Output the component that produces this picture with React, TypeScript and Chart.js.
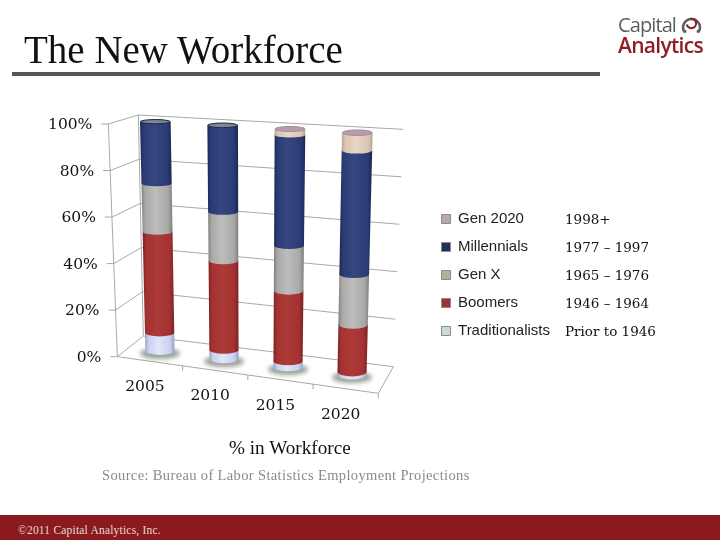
import React, { useEffect, useRef } from "react";
import { Chart, registerables } from "chart.js";

Chart.register(...registerables);

const years = ["2005", "2010", "2015", "2020"];
const traditionalists = [8, 4, 2.5, 1.3];
const boomers = [44, 38, 29.5, 19.5];
const genX = [21, 21, 19, 20.8];
const millennials = [27, 37, 46.5, 51];
const gen2020 = [0, 0, 2.5, 7.4];
const seriesNames = ["Traditionalists", "Boomers", "Gen X", "Millennials", "Gen 2020"];
const cohortRanges = ["1998+", "1977 – 1997", "1965 – 1976", "1946 – 1964", "Prior to 1946"];
const barColors = ["#c9d0f0", "#a33232", "#a9a9a7", "#2c3b74", "#dcc6b4"];
const edgeColors = ["#9aa0c0", "#7e2222", "#7f7f7d", "#1c2854", "#b8a292"];
const glowColors = ["#e2e6fa", "#ab3a38", "#bdbdbb", "#35477f", "#e8d6c6"];
const capColors = ["#d8dcf5", "#b04a48", "#c8c8c6", "#7d8a86", "#b79dab"];
const swatchFills = ["#cddbd6", "#9c3236", "#aeb39b", "#1f2f5e", "#b9a6b5"];

type P = [number, number];
const z = (x: number, y: number): P => [30 + x / 3, 100 + y / 3];
// frame of the perspective scene: [top-left, top-right, bottom-right, bottom-left]
const barPlane: P[] = [z(275, 59.5), z(1083, 103.5), z(1062, 837), z(294, 741)];
const backWall: P[] = [z(325, 45), z(1120, 88), z(1090, 800), z(340, 708)];
const sideWall: P[] = [z(235, 72), z(325, 45), z(340, 708), z(262, 770)];
const floorFrame: P[] = [z(340, 708), z(1090, 800), z(1045, 880), z(262, 770)];

const onQuad = (q: P[], u: number, t: number): P => {
  const tx = q[0][0] + (q[1][0] - q[0][0]) * u;
  const ty = q[0][1] + (q[1][1] - q[0][1]) * u;
  const bx = q[3][0] + (q[2][0] - q[3][0]) * u;
  const by = q[3][1] + (q[2][1] - q[3][1]) * u;
  return [tx + (bx - tx) * t, ty + (by - ty) * t];
};

const line = (ctx: CanvasRenderingContext2D, a: P, b: P) => {
  ctx.beginPath();
  ctx.moveTo(a[0], a[1]);
  ctx.lineTo(b[0], b[1]);
  ctx.stroke();
};

const scenePlugin = {
  id: "scene",
  beforeDatasetsDraw(chart: any) {
    const ctx: CanvasRenderingContext2D = chart.ctx;
    const { chartArea: ca, scales } = chart;
    const xs = scales.x;
    const ys = scales.y;
    const frac = (px: number, py: number): [number, number] => [
      (px - ca.left) / (ca.right - ca.left),
      (py - ca.top) / (ca.bottom - ca.top),
    ];
    ctx.save();

    // walls and floor
    ctx.strokeStyle = "#a8a8a8";
    ctx.lineWidth = 1;
    ys.ticks.forEach((tick: any) => {
      const t = frac(ca.left, ys.getPixelForValue(tick.value))[1];
      line(ctx, onQuad(sideWall, 0, t), onQuad(sideWall, 1, t));
      line(ctx, onQuad(backWall, 0, t), onQuad(backWall, 1, t));
      const front = onQuad(sideWall, 0, t);
      line(ctx, front, [front[0] - 7, front[1]]);
      ctx.fillStyle = "#111";
      ctx.font = '15.5px "DejaVu Serif"';
      ctx.textAlign = "right";
      ctx.textBaseline = "middle";
      ctx.fillText(tick.label, front[0] - 16, front[1] + 1);
    });
    line(ctx, onQuad(sideWall, 0, 0), onQuad(sideWall, 0, 1));
    line(ctx, onQuad(backWall, 0, 0), onQuad(backWall, 0, 1));
    line(ctx, onQuad(floorFrame, 0, 1), onQuad(floorFrame, 1, 1));
    line(ctx, onQuad(floorFrame, 1, 0), onQuad(floorFrame, 1, 1));

    years.forEach((_, i) => {
      const edge = frac(i < years.length - 1 ? (xs.getPixelForValue(i) + xs.getPixelForValue(i + 1)) / 2 : ca.right, ca.top)[0];
      const p = onQuad(floorFrame, edge, 1);
      line(ctx, p, [p[0], p[1] + 5]);
      const c = onQuad(floorFrame, frac(xs.getPixelForValue(i), ca.top)[0], 1);
      ctx.fillStyle = "#111";
      ctx.font = '15.5px "DejaVu Serif"';
      ctx.textAlign = "center";
      ctx.textBaseline = "middle";
      ctx.fillText(years[i], c[0] - 5, c[1] + 26);
    });

    const metas = chart.data.datasets.map((_: any, d: number) => chart.getDatasetMeta(d));
    const radius = (u: number, t: number) => 2 + 1.8 * t + 0.9 * u;

    // contact shadows
    metas[0].data.forEach((el: any) => {
      const [u, t] = frac(el.x, el.base);
      const c = onQuad(barPlane, u, t);
      ctx.save();
      ctx.filter = "blur(2px)";
      ctx.fillStyle = "rgba(72,84,68,0.55)";
      ctx.beginPath();
      ctx.ellipse(c[0], c[1] + 2.5, 20, 5.5, 0, 0, Math.PI * 2);
      ctx.fill();
      ctx.restore();
    });

    // cylinders, stacked from the floor upwards
    years.forEach((_, col) => {
      let topSeries = 0;
      metas.forEach((meta: any, d: number) => {
        const el = meta.data[col];
        const value = chart.data.datasets[d].data[col];
        if (!value) return;
        topSeries = d;
        const half = el.width / 2;
        const [uL, t1] = frac(el.x - half, el.y);
        const [uR, t0] = frac(el.x + half, el.base);
        const [uC] = frac(el.x, el.y);
        const lt = onQuad(barPlane, uL, t1);
        const rt = onQuad(barPlane, uR, t1);
        const lb = onQuad(barPlane, uL, t0);
        const rb = onQuad(barPlane, uR, t0);
        const g = ctx.createLinearGradient(Math.min(lt[0], lb[0]), 0, Math.max(rt[0], rb[0]), 0);
        g.addColorStop(0, edgeColors[d]);
        g.addColorStop(0.12, barColors[d]);
        g.addColorStop(0.45, glowColors[d]);
        g.addColorStop(0.85, barColors[d]);
        g.addColorStop(1, edgeColors[d]);
        ctx.fillStyle = g;
        ctx.beginPath();
        ctx.ellipse((lb[0] + rb[0]) / 2, (lb[1] + rb[1]) / 2, (rb[0] - lb[0]) / 2, radius(uC, t0), 0, Math.PI, 0, true);
        ctx.ellipse((lt[0] + rt[0]) / 2, (lt[1] + rt[1]) / 2, (rt[0] - lt[0]) / 2, radius(uC, t1), 0, 0, Math.PI, true);
        ctx.closePath();
        ctx.fill();
      });
      const el = metas[topSeries].data[col];
      const half = el.width / 2;
      const [uL, t1] = frac(el.x - half, el.y);
      const [uR] = frac(el.x + half, el.y);
      const [uC] = frac(el.x, el.y);
      const lt = onQuad(barPlane, uL, t1);
      const rt = onQuad(barPlane, uR, t1);
      ctx.fillStyle = capColors[topSeries];
      ctx.strokeStyle = topSeries === 3 ? "#1c2854" : "#a58c9c";
      ctx.lineWidth = 1;
      ctx.beginPath();
      ctx.ellipse((lt[0] + rt[0]) / 2, (lt[1] + rt[1]) / 2, (rt[0] - lt[0]) / 2 - 0.5, radius(uC, t1), 0, 0, Math.PI * 2);
      ctx.fill();
      ctx.stroke();
    });

    ctx.restore();
    return false;
  },
};

const abs = (left: number, top: number, extra: React.CSSProperties = {}): React.CSSProperties => ({
  position: "absolute",
  left,
  top,
  whiteSpace: "nowrap",
  ...extra,
});

export default function App() {
  const ref = useRef<HTMLCanvasElement>(null);
  useEffect(() => {
    const chart = new Chart(ref.current as HTMLCanvasElement, {
      type: "bar",
      data: {
        labels: years,
        datasets: [traditionalists, boomers, genX, millennials, gen2020].map((data, i) => ({
          label: seriesNames[i],
          data,
          backgroundColor: barColors[i],
          categoryPercentage: 1,
          barPercentage: 0.455,
        })),
      },
      plugins: [scenePlugin],
      options: {
        responsive: false,
        animation: false,
        layout: { padding: { top: 10, right: 160, bottom: 0, left: 0 } },
        scales: {
          x: { stacked: true, display: false },
          y: {
            stacked: true,
            display: false,
            min: 0,
            max: 100,
            ticks: { stepSize: 20, callback: (v: any) => `${v}%` },
          },
        },
        plugins: {
          tooltip: { enabled: false },
          legend: {
            position: "right",
            reverse: true,
            labels: {
              boxWidth: 9,
              boxHeight: 9,
              padding: 13,
              color: "#222",
              font: { family: '"Liberation Sans"', size: 15 },
              generateLabels: (c: any) =>
                Chart.defaults.plugins.legend.labels.generateLabels(c).map((it: any, i: number) => ({
                  ...it,
                  fillStyle: swatchFills[i],
                  strokeStyle: "#8c8c8c",
                  lineWidth: 1,
                })),
            },
          },
        },
      } as any,
    });
    return () => chart.destroy();
  }, []);

  return (
    <div style={{ position: "fixed", left: 0, top: 0, width: 720, height: 540, background: "#fff", overflow: "hidden", fontFamily: '"Liberation Serif", serif' }}>
      <canvas ref={ref} width={720} height={540} style={{ position: "absolute", left: 0, top: 0 }} />
      <div style={abs(24, 29, { fontSize: 39, lineHeight: "42px", color: "#111" })}>The New Workforce</div>
      <div style={abs(12, 71.5, { width: 588, height: 4, background: "#55565a" })} />

      <div style={abs(618, 12, { fontFamily: '"Open Sans"', fontSize: 20, lineHeight: "26px", color: "#5a5d62", letterSpacing: -0.9 })}>Capital</div>
      <div style={abs(618, 32, { fontFamily: '"Open Sans"', fontSize: 21, fontWeight: 600, lineHeight: "26px", color: "#8e2024", letterSpacing: -0.7 })}>Analytics</div>
      <svg style={abs(681, 13)} width={21} height={21} viewBox="0 0 20 20">
        <path d="M5 17.5 L3 17.5 A8 8 0 1 1 17 17.5 L15 17.5" fill="none" stroke="#5a5d62" strokeWidth={2.4} />
        <path d="M9 5.5 A4.5 4.5 0 1 1 5.5 11" fill="none" stroke="#8e2024" strokeWidth={2} />
      </svg>

      {cohortRanges.map((t, i) => (
        <div key={t} style={abs(565, 209 + i * 28, { fontFamily: '"DejaVu Serif"', fontSize: 13.5, lineHeight: "20px", color: "#111" })}>{t}</div>
      ))}

      <div style={abs(229, 437, { fontSize: 19.2, lineHeight: "22px", color: "#111" })}>% in Workforce</div>
      <div style={abs(102, 466, { fontSize: 14.5, lineHeight: "18px", color: "#8a8a8a", letterSpacing: 0.36 })}>Source: Bureau of Labor Statistics Employment Projections</div>

      <div style={abs(0, 515, { width: 720, height: 25, background: "#8b1a1e" })} />
      <div style={abs(18, 523, { fontSize: 11.5, lineHeight: "14px", color: "#e8d8d8", letterSpacing: 0.2 })}>©2011 Capital Analytics, Inc.</div>
    </div>
  );
}
